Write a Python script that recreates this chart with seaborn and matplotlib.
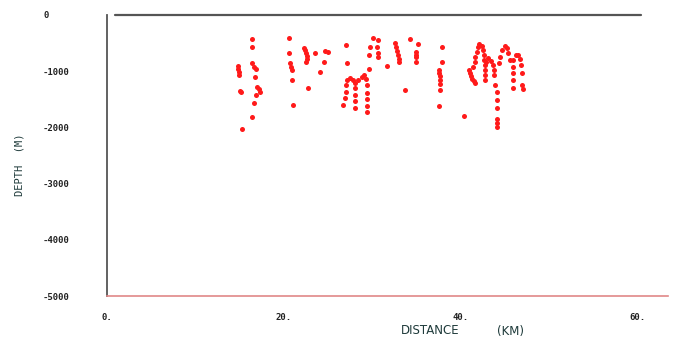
import numpy as np
import pandas as pd
import matplotlib
matplotlib.use("Agg")
import matplotlib.pyplot as plt
import seaborn as sns

dist_km = [
    14.8, 14.8, 14.9, 14.9, 15.0, 15.2, 15.3,
    16.4, 16.4, 16.4, 16.6, 16.9, 16.7, 17.0, 17.2, 17.3, 16.9, 16.6, 16.4,
    20.6, 20.6, 20.7, 20.8, 20.9, 20.9, 21.1,
    22.3, 22.4, 22.5, 22.6, 22.6, 22.5, 22.8, 23.6, 24.7, 25.0, 24.6, 24.1,
    27.1, 27.2, 27.0, 27.0, 26.9, 26.7, 27.2, 27.5, 27.9, 28.1, 28.4, 28.9,
    29.1, 29.3, 29.4, 28.1, 28.1, 28.1, 28.1, 29.4, 29.4, 29.4, 29.4, 29.6,
    30.1, 30.7, 29.8, 30.6, 29.6, 30.7, 30.7,
    31.7, 32.6, 32.7, 32.8, 32.9, 33.0, 33.0, 33.7, 34.3, 35.2, 35.0, 35.0, 35.0, 35.0,
    37.9, 37.9, 37.6, 37.6, 37.7, 37.7, 37.7, 37.7, 37.6,
    40.4, 41.0, 41.1, 41.2, 41.3, 41.5, 41.6,
    41.4, 41.6, 41.7, 41.9, 42.0, 42.1,
    42.5, 42.6, 42.7, 42.7, 42.8, 42.8, 42.8, 42.8,
    42.9, 43.1, 43.5, 43.7, 43.8, 43.8, 43.9, 44.1, 44.1, 44.1, 44.1, 44.2, 44.2,
    44.4, 44.5, 44.7, 45.0, 45.3, 45.4, 45.6, 45.9, 45.9, 46.0, 46.0,
    46.0, 46.3, 46.5, 46.8, 46.9, 47.0, 47.0, 47.1,
]
depth_m = [
    -900, -960, -1010, -1060, -1350, -1370, -2030,
    -430, -570, -850, -920, -960, -1100, -1280, -1320, -1370, -1420, -1570, -1810,
    -410, -680, -850, -920, -980, -1160, -1600,
    -580, -620, -680, -730, -790, -840, -1300, -680, -640, -660, -840, -1010,
    -530, -860, -1250, -1370, -1480, -1600, -1160, -1120, -1160, -1210, -1160, -1100,
    -1070, -1140, -1250, -1300, -1420, -1530, -1650, -1390, -1500, -1620, -1730, -960,
    -410, -445, -570, -570, -710, -680, -750,
    -910, -500, -570, -640, -710, -780, -840, -1330, -430, -510, -660, -710, -750, -840,
    -570, -840, -980, -1030, -1080, -1150, -1220, -1330, -1620,
    -1800, -980, -1030, -1080, -1130, -1180, -1210,
    -925, -836, -747, -658, -569, -516,
    -552, -623, -712, -801, -890, -979, -1067, -1156,
    -836, -765, -818, -890, -979, -1067, -1245, -1370, -1512, -1655, -1850, -1921, -1993,
    -854, -747, -623, -552, -587, -676, -801, -925, -1032, -1156, -1299,
    -801, -712, -712, -783, -890, -1032, -1245, -1317,
]

x_ticks = [0, 20, 40, 60]
x_tick_labels = ["0.", "20.", "40.", "60."]
y_ticks = [0, -1000, -2000, -3000, -4000, -5000]
y_tick_labels = ["0", "-1000", "-2000", "-3000", "-4000", "-5000"]

df = pd.DataFrame({"dist": dist_km, "depth": depth_m})

sns.set_style("white")
fig = plt.figure(figsize=(6.76, 3.47), dpi=100)
ax = fig.add_axes([107 / 676, 51 / 347, 561 / 676, 281 / 347])

sns.scatterplot(data=df, x="dist", y="depth", ax=ax, color="#ff1a1a",
                s=13, linewidth=0, legend=False)

# sea-level line
ax.plot([0.9, 60.5], [0, 0], color="#555555", lw=1.6, clip_on=False, zorder=3)

ax.set_xlim(0, 63.5)
ax.set_ylim(-5000, 0)
ax.set_xticks(x_ticks)
ax.set_xticklabels(x_tick_labels)
ax.set_yticks(y_ticks)
ax.set_yticklabels(y_tick_labels)
ax.set_xlabel("")
ax.set_ylabel("")

for s in ["top", "right"]:
    ax.spines[s].set_visible(False)
ax.spines["left"].set_color("#555555")
ax.spines["left"].set_linewidth(1.3)
ax.spines["bottom"].set_color("#e08888")
ax.spines["bottom"].set_linewidth(1.2)

ax.tick_params(axis="x", direction="out", length=3.5, width=1, color="#555555", pad=9)
ax.tick_params(axis="y", direction="out", length=3, width=1, color="#555555", pad=43)
for lab in ax.get_xticklabels() + ax.get_yticklabels():
    lab.set_family("DejaVu Sans Mono")
    lab.set_weight("bold")
    lab.set_fontsize(6.5)
    lab.set_color("#222222")
for lab in ax.get_yticklabels():
    lab.set_horizontalalignment("left")

fig.text(430 / 676, 1 - 331 / 347, "DISTANCE", ha="center", va="center",
         fontsize=8.5, family="DejaVu Sans", color="#1e3a3a")
fig.text(511 / 676, 1 - 331 / 347, "(KM)", ha="center", va="center",
         fontsize=8.5, family="DejaVu Sans", color="#1e3a3a")
fig.text(19 / 676, 1 - 165 / 347, "DEPTH  (M)", ha="center", va="center",
         rotation=90, fontsize=7.5, family="DejaVu Sans Mono", color="#1e3a3a")

fig.savefig("out.png", dpi=100)
